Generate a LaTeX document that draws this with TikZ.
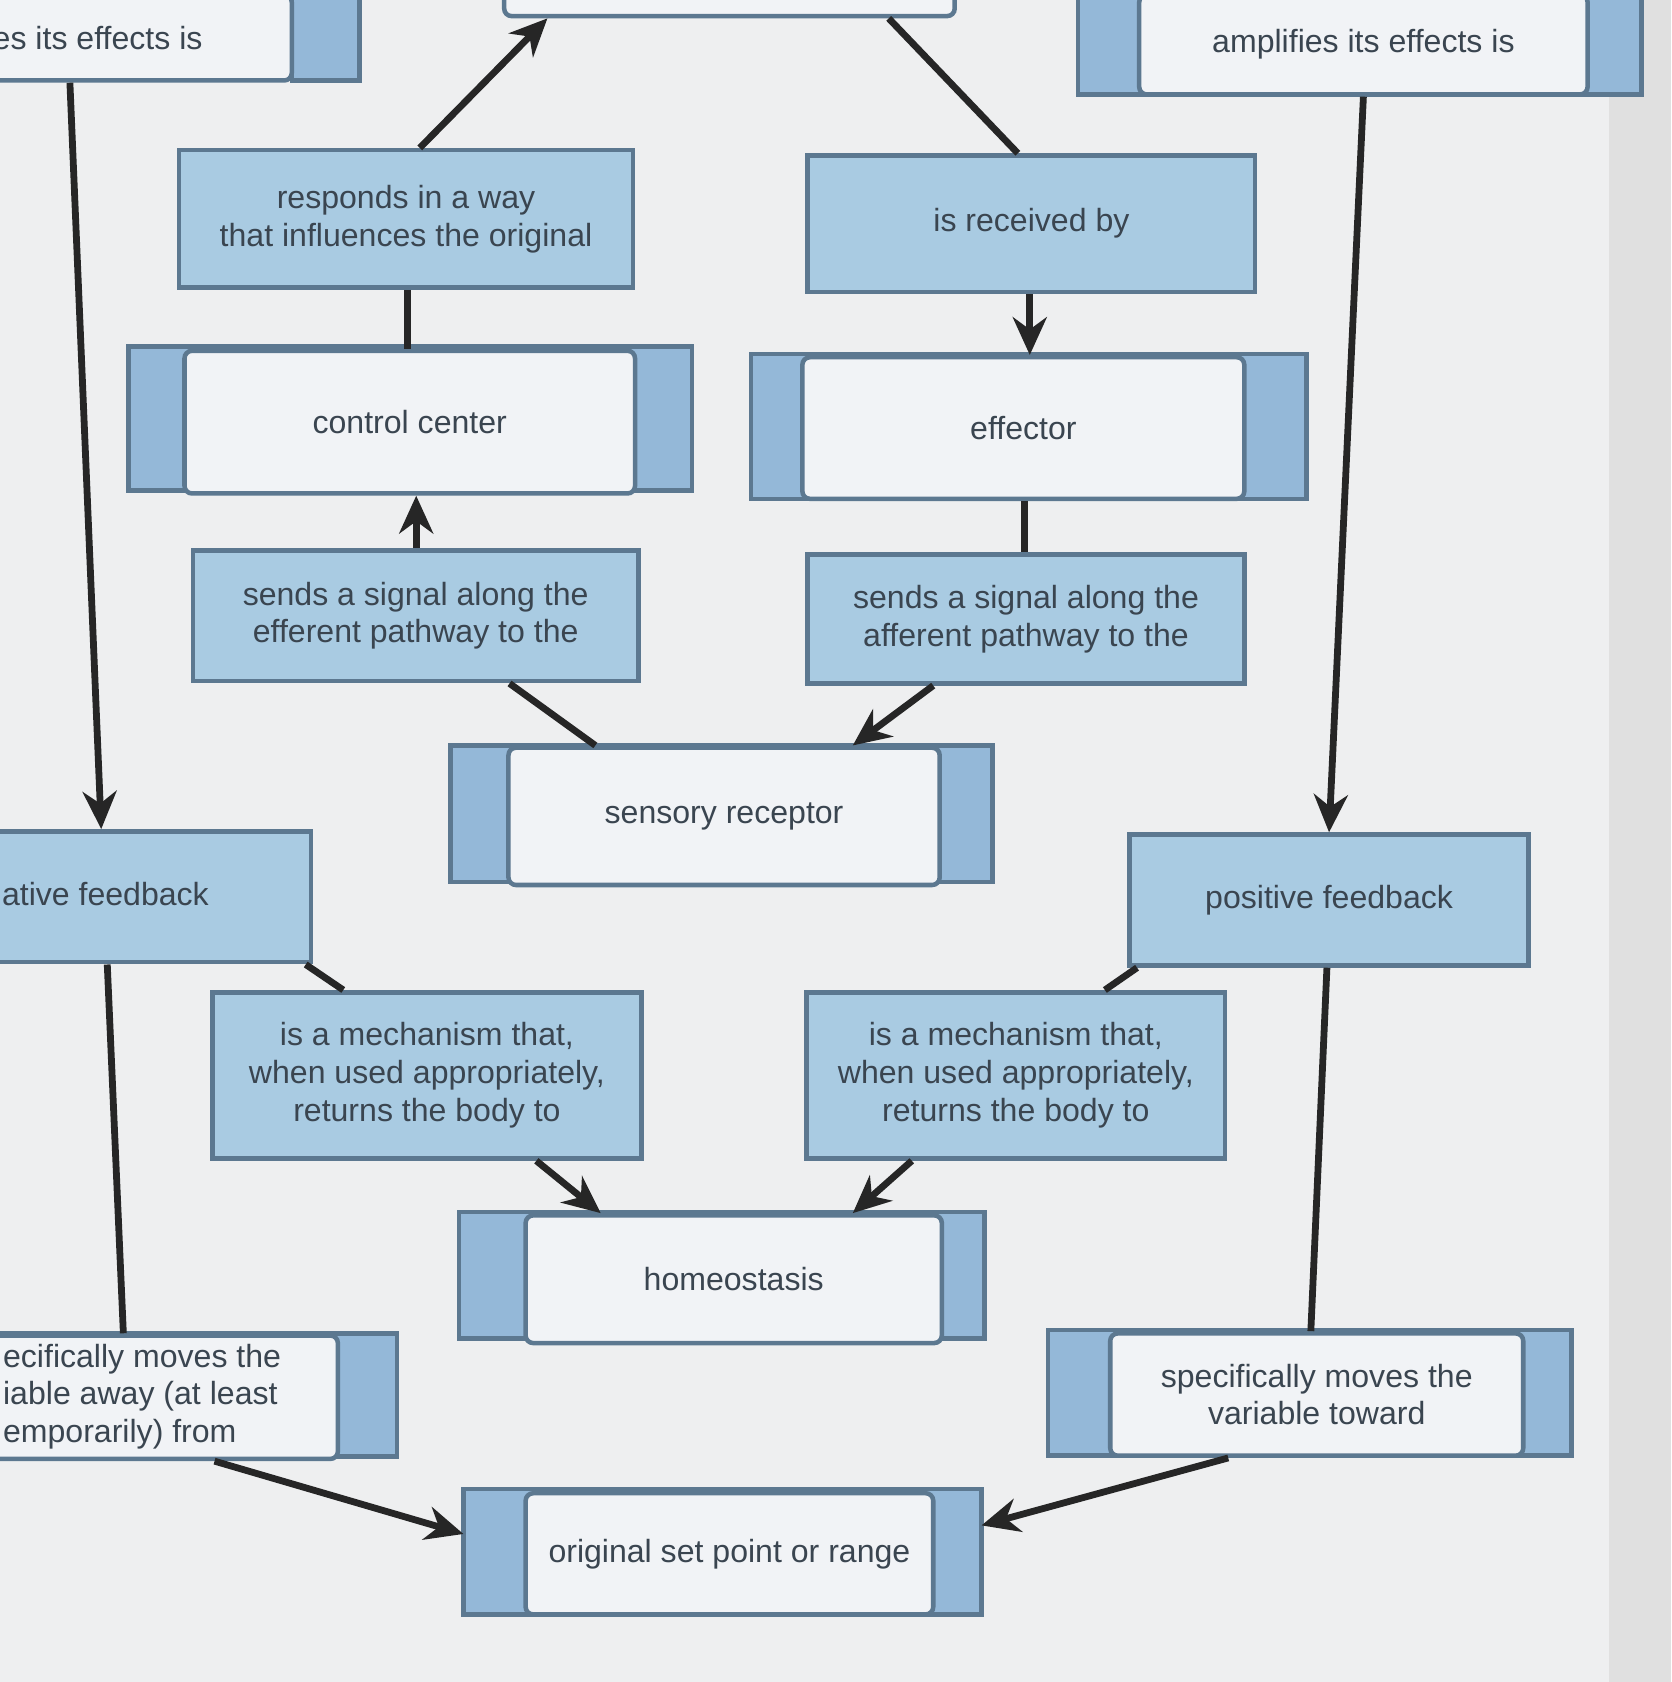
\documentclass[tikz,border=0pt]{standalone}
\usepackage{fontspec}
\setmainfont{Liberation Sans}
\usetikzlibrary{arrows.meta,calc}
\definecolor{bg}{HTML}{EEEFF0}
\definecolor{bluef}{HTML}{A9CBE2}
\definecolor{tab}{HTML}{94B8D8}
\definecolor{lite}{HTML}{F1F3F6}
\definecolor{edge}{HTML}{5C7890}
\definecolor{txt}{HTML}{3A4550}
\tikzset{
 x=0.01cm,y=-0.01cm,
 base/.style={draw=edge,line width=1.2pt,inner sep=0pt,align=center,text=txt,font=\fontsize{8.5}{10}\selectfont},
 blue/.style={base,fill=bluef},
 lite/.style={base,fill=lite,rounded corners=2pt},
 tabs/.style={draw=edge,line width=1.2pt,fill=tab},
 con/.style={line width=1.8pt,draw=black!85},
 arr/.style={con,-{Stealth[length=10pt,width=9pt]}}
}
\newcommand\bx[7]{\node[#6,minimum width={(#4-#2)*0.01cm},minimum height={(#5-#3)*0.01cm}] (#1) at ({(#2+#4)/2},{(#3+#5)/2}) {#7};}
\begin{document}
\begin{tikzpicture}
\useasboundingbox (0,0) rectangle (1558,1568);
\clip (0,0) rectangle (1558,1568);
\fill[bg] (0,0) rectangle (1558,1568);
\fill[black!12] (1500,0) rectangle (1558,1568);
% top partial boxes
\draw[tabs] (272,-5) rectangle (335,75);
\bx{tl}{-10}{-5}{272}{75}{lite}{\hspace*{-0.8cm}es its effects is}
\bx{tc}{470}{-40}{890}{15}{lite}{}
\draw[tabs] (1005,-5) rectangle (1530,88);
\bx{tr}{1062}{-5}{1480}{88}{lite}{amplifies its effects is}
% blue link boxes
\bx{resp}{167}{140}{590}{268}{blue}{responds in a way\\that influences the original}
\bx{recv}{753}{145}{1170}{272}{blue}{is received by}
\bx{eff1}{180}{513}{595}{635}{blue}{sends a signal along the\\efferent pathway to the}
\bx{aff1}{753}{517}{1160}{637}{blue}{sends a signal along the\\afferent pathway to the}
\bx{neg}{-10}{775}{290}{897}{blue}{\hspace*{-1.0cm}gative feedback}
\bx{pos}{1053}{778}{1425}{900}{blue}{positive feedback}
\bx{mechl}{198}{925}{598}{1080}{blue}{is a mechanism that,\\when used appropriately,\\returns the body to}
\bx{mechr}{752}{925}{1142}{1080}{blue}{is a mechanism that,\\when used appropriately,\\returns the body to}
% concept boxes
\draw[tabs] (120,323) rectangle (645,457);
\bx{cc}{172}{327}{592}{460}{lite}{control center}
\draw[tabs] (700,330) rectangle (1218,465);
\bx{ef}{748}{333}{1160}{465}{lite}{effector}
\draw[tabs] (420,695) rectangle (925,822);
\bx{sr}{474}{697}{876}{825}{lite}{sensory receptor}
\draw[tabs] (428,1130) rectangle (918,1248);
\bx{ho}{490}{1133}{878}{1252}{lite}{homeostasis}
\draw[tabs] (977,1240) rectangle (1465,1357);
\bx{st}{1035}{1243}{1420}{1357}{lite}{specifically moves the\\variable toward}
\draw[tabs] (-10,1243) rectangle (370,1358);
\bx{sa}{-10}{1245}{315}{1360}{lite}{\hspace*{-0.4cm}\begin{tabular}{@{}l@{}}ecifically moves the\\iable away (at least\\emporarily) from\end{tabular}}
\draw[tabs] (432,1388) rectangle (915,1505);
\bx{osp}{490}{1392}{870}{1505}{lite}{original set point or range}
% connectors
\draw[arr] ($(tl.south west)!0.27!(tl.south east)$) -- ($(neg.north west)!0.35!(neg.north east)$);
\draw[arr] ($(tr.south west)!0.5!(tr.south east)$) -- ($(pos.north west)!0.5!(pos.north east)$);
\draw[arr] ($(resp.north west)!0.53!(resp.north east)$) -- ($(tc.south west)!0.1!(tc.south east)$);
\draw[con] ($(recv.north west)!0.47!(recv.north east)$) -- ($(tc.south west)!0.85!(tc.south east)$);
\draw[con] (resp.south -| 380,0) -- (cc.north -| 380,0);
\draw[arr] (recv.south -| 960,0) -- (ef.north -| 960,0);
\draw[con] (ef.south -| 955,0) -- (aff1.north -| 955,0);
\draw[arr] (eff1.north -| 388,0) -- (cc.south -| 388,0);
\draw[con] (eff1.south -| 475,0) -- (sr.north -| 555,0);
\draw[arr] (aff1.south -| 870,0) -- (sr.north -| 795,0);
\draw[con] (neg.south -| 285,0) -- (mechl.north -| 320,0);
\draw[arr] (mechl.south -| 500,0) -- (ho.north -| 560,0);
\draw[con] (pos.south -| 1060,0) -- (mechr.north -| 1030,0);
\draw[arr] (mechr.south -| 850,0) -- (ho.north -| 795,0);
\draw[con] (neg.south -| 100,0) -- (sa.north -| 115,0);
\draw[con] (pos.south -| 1237,0) -- (st.north -| 1222,0);
\draw[arr] (sa.south -| 200,0) -- (432,1430);
\draw[arr] (st.south -| 1145,0) -- (915,1422);
\end{tikzpicture}
\end{document}
